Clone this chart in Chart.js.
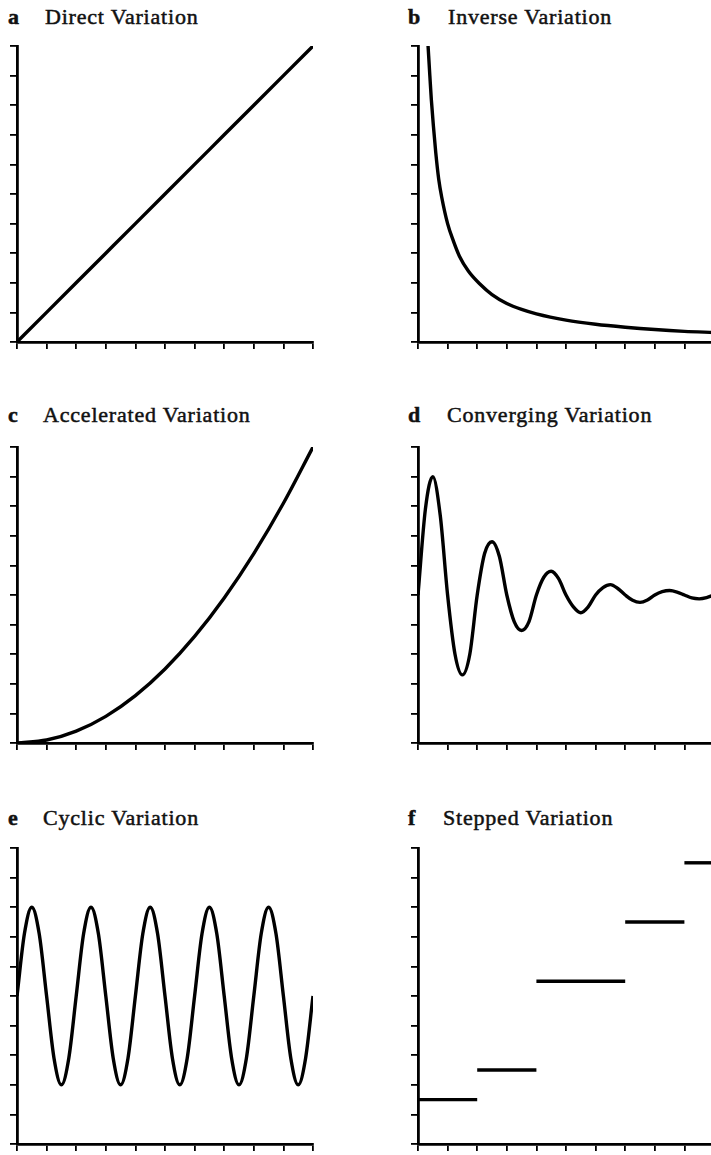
<!DOCTYPE html>
<html>
<head>
<meta charset="utf-8">
<title>Types of Variation</title>
<script src="https://cdn.jsdelivr.net/npm/chart.js@4.4.0/dist/chart.umd.min.js"></script>
<style>
  html, body { margin: 0; padding: 0; background: #fff; }
  body { width: 711px; height: 1155px; overflow: hidden; position: relative; }
  canvas { position: absolute; }
  .ttl {
    position: absolute;
    font-family: "Liberation Serif", "Times New Roman", serif;
    font-size: 22px;
    line-height: 22px;
    letter-spacing: 0.8px;
    color: #111;
    -webkit-text-stroke: 0.5px #111;
    white-space: nowrap;
  }
  .ltr { font-weight: bold; letter-spacing: 0; }
</style>
</head>
<body>

<script>
// values (x from 0 to 10, y from 0 to 10)
const directX = [0, 1, 2, 3, 4, 5, 6, 7, 8, 9, 10];
const directY = [0, 1, 2, 3, 4, 5, 6, 7, 8, 9, 10];

const inverseX = [0.34, 0.4, 0.45, 0.52, 0.6, 0.7, 0.8, 1.0, 1.2, 1.4, 1.7, 2.1, 2.5, 3.0, 3.5, 4.0, 5.0, 6.0, 7.0, 8.0, 9.0, 10.0];
const inverseY = [10, 9, 8.2, 7.3, 6.4, 5.5, 4.9, 4.0, 3.4, 2.9, 2.4, 1.95, 1.6, 1.3, 1.1, 0.95, 0.74, 0.6, 0.5, 0.42, 0.36, 0.32];

const accelX = [0, 1, 2, 3, 4, 5, 6, 7, 8, 9, 10];
const accelY = [0, 0.1, 0.4, 0.9, 1.6, 2.5, 3.6, 4.9, 6.4, 8.1, 10];

const quarterX = [0, 0.25, 0.5, 0.75, 1, 1.25, 1.5, 1.75, 2, 2.25, 2.5, 2.75, 3, 3.25, 3.5, 3.75,
  4, 4.25, 4.5, 4.75, 5, 5.25, 5.5, 5.75, 6, 6.25, 6.5, 6.75, 7, 7.25, 7.5, 7.75,
  8, 8.25, 8.5, 8.75, 9, 9.25, 9.5, 9.75, 10];

const convergeY = [5, 7.9, 9, 7.7, 5, 3.0, 2.3, 3.0, 5, 6.4, 6.8, 6.3, 5, 4.1, 3.8, 4.1,
  5, 5.6, 5.8, 5.55, 5, 4.6, 4.4, 4.6, 5, 5.25, 5.35, 5.22, 5, 4.82, 4.75, 4.83,
  5, 5.11, 5.15, 5.1, 5, 4.9, 4.87, 4.91, 5];

const cyclicY = [5, 7.1, 8, 7.1, 5, 2.9, 2, 2.9, 5, 7.1, 8, 7.1, 5, 2.9, 2, 2.9,
  5, 7.1, 8, 7.1, 5, 2.9, 2, 2.9, 5, 7.1, 8, 7.1, 5, 2.9, 2, 2.9,
  5, 7.1, 8, 7.1, 5, 2.9, 2, 2.9, 5];

const stepFrom = [0, 2, 4, 7, 9];
const stepTo = [2, 4, 7, 9, 10];
const stepLevel = [1.5, 2.5, 5.5, 7.5, 9.5];

const letters = ['a', 'b', 'c', 'd', 'e', 'f'];
const titles = ['Direct Variation', 'Inverse Variation', 'Accelerated Variation',
  'Converging Variation', 'Cyclic Variation', 'Stepped Variation'];

// layout
const plotSize = 296;
const areaLeft = [17, 418, 17, 418, 17, 418];
const areaTop = [46, 46, 447, 447, 848, 848];
const letterLeft = [8, 408, 8, 408, 8, 408];
const textLeft = [45, 448, 43, 447, 43, 443];
const titleTop = [5.6, 5.6, 403.6, 403.6, 806.6, 806.6];

function pts(xs, ys) {
  return xs.map((x, i) => ({ x: x, y: ys[i] }));
}

function curve(xs, ys) {
  return [{
    data: pts(xs, ys),
    borderColor: '#000',
    borderWidth: 3.4,
    pointRadius: 0,
    cubicInterpolationMode: 'monotone',
    fill: false,
  }];
}

function steps() {
  return stepLevel.map((lvl, i) => ({
    data: [{ x: stepFrom[i], y: lvl }, { x: stepTo[i], y: lvl }],
    borderColor: '#000',
    borderWidth: 3.4,
    pointRadius: 0,
    tension: 0,
    fill: false,
  }));
}

const panelData = [
  curve(directX, directY),
  curve(inverseX, inverseY),
  curve(accelX, accelY),
  curve(quarterX, convergeY),
  curve(quarterX, cyclicY),
  steps(),
];

function axis() {
  return {
    type: 'linear',
    min: 0,
    max: 10,
    ticks: { display: false, stepSize: 1 },
    grid: { display: true, drawOnChartArea: false, drawTicks: true, tickLength: 7, color: '#000', lineWidth: 1.8 },
    border: { display: true, color: '#000', width: 2.8 },
  };
}

panelData.forEach((datasets, i) => {
  const t1 = document.createElement('span');
  t1.className = 'ttl ltr';
  t1.textContent = letters[i];
  t1.style.left = letterLeft[i] + 'px';
  t1.style.top = titleTop[i] + 'px';
  document.body.appendChild(t1);

  const t2 = document.createElement('span');
  t2.className = 'ttl';
  t2.textContent = titles[i];
  t2.style.left = textLeft[i] + 'px';
  t2.style.top = titleTop[i] + 'px';
  document.body.appendChild(t2);

  const cv = document.createElement('canvas');
  cv.width = plotSize + 20;
  cv.height = plotSize + 20;
  cv.style.left = (areaLeft[i] - 10) + 'px';
  cv.style.top = (areaTop[i] - 10) + 'px';
  document.body.appendChild(cv);

  new Chart(cv.getContext('2d'), {
    type: 'line',
    data: { datasets: datasets },
    options: {
      responsive: false,
      animation: false,
      layout: { autoPadding: false, padding: { left: 3, top: 10, right: 10, bottom: 3 } },
      scales: { x: axis(), y: axis() },
      plugins: { legend: { display: false }, tooltip: { enabled: false } },
    },
  });
});
</script>
</body>
</html>
